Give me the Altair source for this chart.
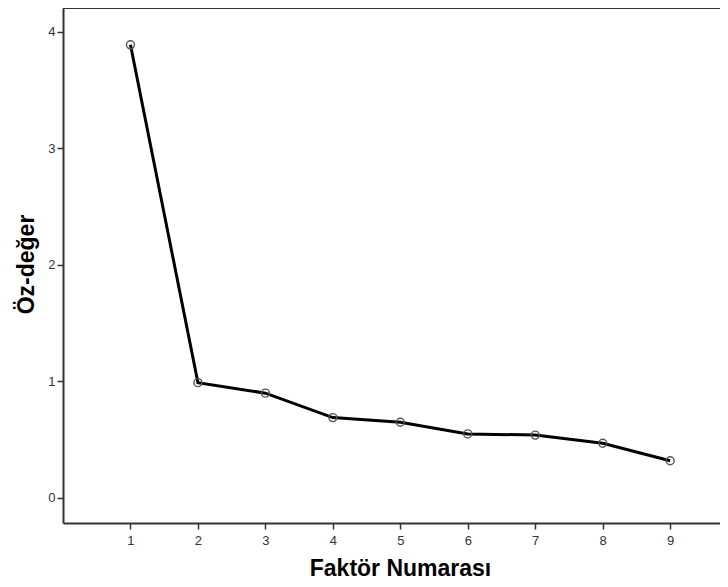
import altair as alt
import pandas as pd

factors = [1, 2, 3, 4, 5, 6, 7, 8, 9]
eigenvalues = [3.89, 0.99, 0.90, 0.69, 0.65, 0.55, 0.54, 0.47, 0.32]
x_ticks = [1, 2, 3, 4, 5, 6, 7, 8, 9]
y_ticks = [0, 1, 2, 3, 4]

df = pd.DataFrame({"Faktör": factors, "Değer": eigenvalues})

W = 657
H = 515
FONT = "Liberation Sans"

x_enc = alt.X(
    "Faktör:Q",
    scale=alt.Scale(domain=[0, 9.739], nice=False, zero=False),
    axis=alt.Axis(
        values=x_ticks, format="d", title="Faktör Numarası", grid=False,
        domainColor="#333333", domainWidth=2, tickColor="#333333", tickWidth=1.5,
        tickSize=6, labelPadding=5, labelFont=FONT, labelFontSize=13, labelColor="#333333",
        titleFont=FONT, titleFontSize=23, titleFontWeight="bold", titleColor="#000000",
        titleX=337, titleY=52, titleBaseline="alphabetic", titleAnchor="start", titleAlign="center",
    ),
)
y_enc = alt.Y(
    "Değer:Q",
    scale=alt.Scale(domain=[-0.2146, 4.206], nice=False, zero=False),
    axis=alt.Axis(
        values=y_ticks, format="d", title="Öz-değer", grid=False,
        domainColor="#333333", domainWidth=2, tickColor="#333333", tickWidth=1.5,
        tickSize=6, labelPadding=2, labelFont=FONT, labelFontSize=13, labelColor="#333333",
        titleFont=FONT, titleFontSize=23, titleFontWeight="bold", titleColor="#000000",
        titleX=-37, titleY=256, titleBaseline="middle", titleAngle=-90, titleAlign="center",
        titleAnchor="start",
    ),
)

base = alt.Chart(df)
line = base.mark_line(color="#000000", strokeWidth=3).encode(x=x_enc, y=y_enc)
points = base.mark_point(
    shape="circle", size=64, filled=False, stroke="#555555", strokeWidth=1.4, opacity=1
).encode(x="Faktör:Q", y="Değer:Q")
top_border = alt.Chart(df).mark_rule(color="#333333", strokeWidth=2).encode(
    x=alt.value(0), x2=alt.value(W), y=alt.value(0)
)

chart = alt.layer(line, points, top_border).properties(
    width=W, height=H,
    autosize=alt.AutoSizeParams(type="none"),
    padding={"left": 55, "top": 0, "right": 0, "bottom": 56},
).configure_view(stroke=None).configure(background="#ffffff")

chart.save("out.html", embed_options={"renderer": "svg", "actions": False})
